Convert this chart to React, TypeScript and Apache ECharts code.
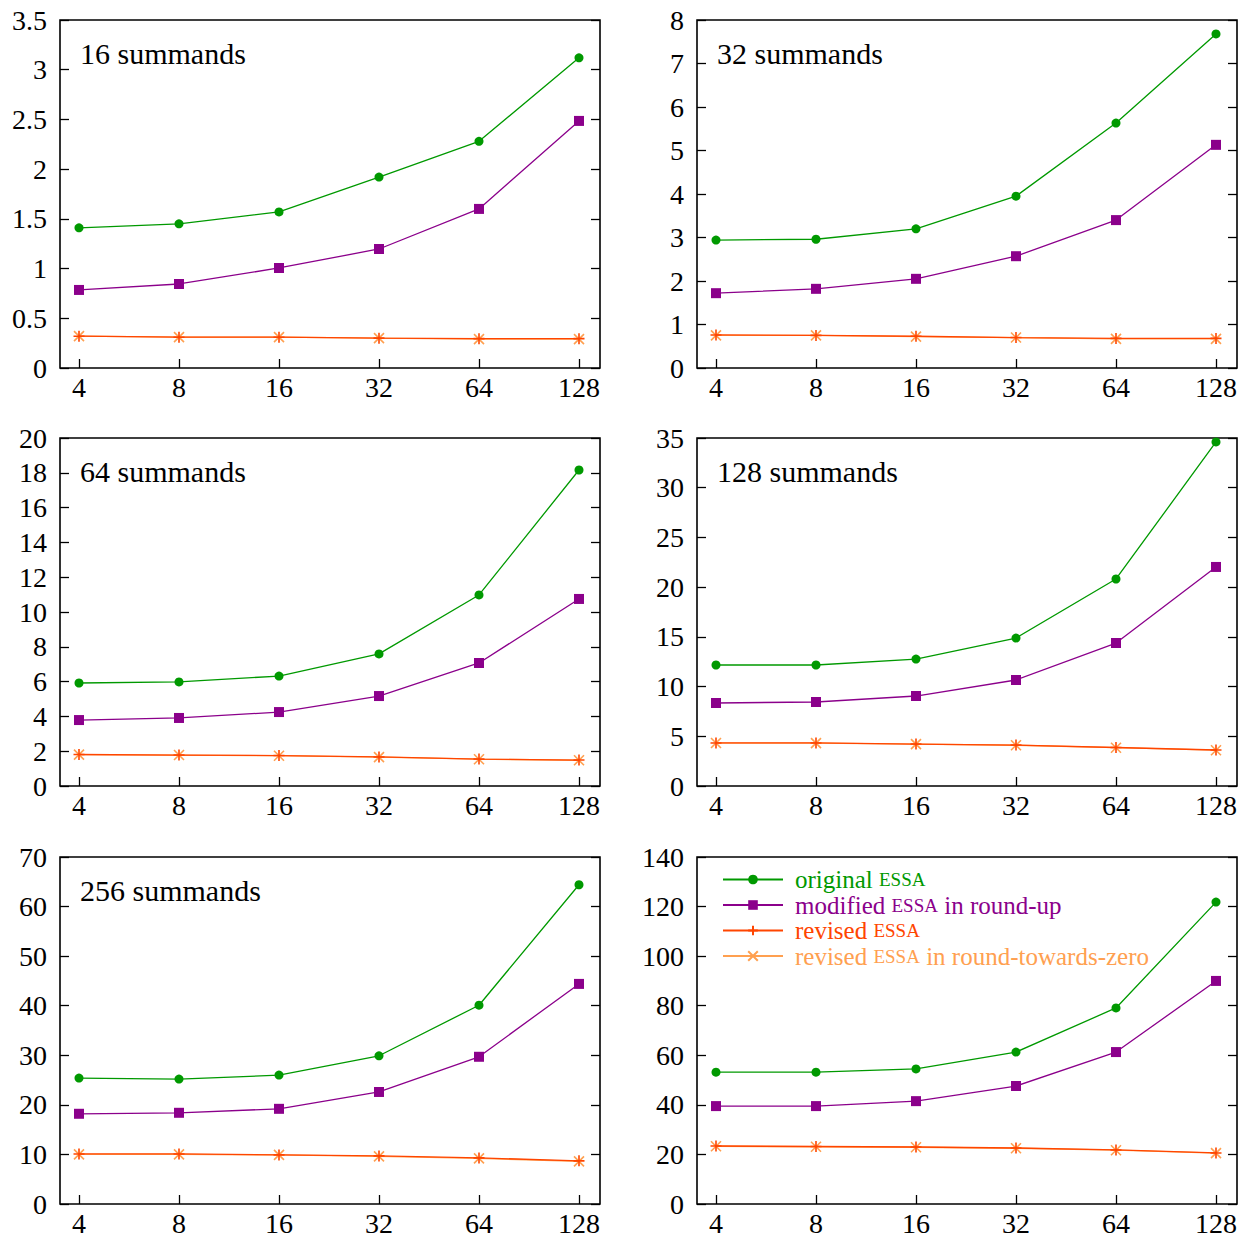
import React, { useEffect, useRef } from "react";
import * as echarts from "echarts";

const sizes = [4, 8, 16, 32, 64, 128];
const panelLabels = ["16 summands", "32 summands", "64 summands", "128 summands", "256 summands", ""];
const yMaxes = [3.5, 8, 20, 35, 70, 140];
const yIntervals = [0.5, 1, 2, 5, 10, 20];

const originalEssa = [
  [1.41, 1.45, 1.57, 1.92, 2.28, 3.12],
  [2.94, 2.96, 3.2, 3.95, 5.63, 7.68],
  [5.92, 5.98, 6.32, 7.59, 10.98, 18.16],
  [12.17, 12.17, 12.77, 14.88, 20.82, 34.6],
  [25.4, 25.2, 26.0, 29.9, 40.1, 64.4],
  [53.2, 53.2, 54.5, 61.3, 79.1, 121.8],
];
const modifiedEssa = [
  [0.785, 0.845, 1.006, 1.197, 1.6, 2.485],
  [1.72, 1.82, 2.05, 2.57, 3.4, 5.13],
  [3.79, 3.91, 4.25, 5.17, 7.07, 10.75],
  [8.35, 8.45, 9.05, 10.66, 14.38, 22.03],
  [18.2, 18.4, 19.2, 22.6, 29.7, 44.4],
  [39.5, 39.5, 41.5, 47.6, 61.3, 90.0],
];
const revisedEssa = [
  [0.32, 0.31, 0.31, 0.3, 0.295, 0.295],
  [0.76, 0.75, 0.73, 0.7, 0.68, 0.68],
  [1.81, 1.78, 1.75, 1.67, 1.55, 1.49],
  [4.33, 4.33, 4.22, 4.12, 3.87, 3.62],
  [10.1, 10.1, 9.9, 9.7, 9.3, 8.7],
  [23.4, 23.2, 23.0, 22.6, 21.8, 20.6],
];
const revisedEssaRtz = [
  [0.32, 0.31, 0.31, 0.3, 0.29, 0.29],
  [0.75, 0.75, 0.72, 0.7, 0.67, 0.67],
  [1.8, 1.78, 1.74, 1.66, 1.54, 1.48],
  [4.32, 4.31, 4.21, 4.1, 3.85, 3.6],
  [10.0, 10.0, 9.9, 9.6, 9.2, 8.6],
  [23.3, 23.1, 22.9, 22.5, 21.7, 20.5],
];

const seriesNames = [
  "original ESSA",
  "modified ESSA in round-up",
  "revised ESSA",
  "revised ESSA in round-towards-zero",
];
const seriesColors = ["#009900", "#8b008b", "#ff4500", "#ffa050"];

const FONT = "Liberation Serif";

const gridBoxes = [
  { left: 60, top: 20, width: 540, height: 348 },
  { left: 697, top: 20, width: 540, height: 348 },
  { left: 60, top: 438, width: 540, height: 348 },
  { left: 697, top: 438, width: 540, height: 348 },
  { left: 60, top: 857, width: 540, height: 347 },
  { left: 697, top: 857, width: 540, height: 347 },
];

export default function App() {
  const ref = useRef<HTMLDivElement>(null);
  useEffect(() => {
    if (!ref.current) return;
    const chart = echarts.init(ref.current, null, { renderer: "svg" });
    const xs = sizes.map((s) => Math.log2(s));
    const grids: any[] = [];
    const xAxes: any[] = [];
    const yAxes: any[] = [];
    const series: any[] = [];
    const graphics: any[] = [];
    gridBoxes.forEach((b, i) => {
      grids.push({ ...b, show: true, borderColor: "#000", borderWidth: 1.6, backgroundColor: "transparent" });
      xAxes.push({
        type: "value",
        gridIndex: i,
        min: 1.81,
        max: 7.21,
        axisLine: { show: false },
        splitLine: { show: false },
        axisTick: { show: true, inside: true, length: 9, customValues: xs, lineStyle: { color: "#000", width: 1.3 } },
        axisLabel: {
          customValues: xs,
          formatter: (v: number) => String(Math.round(Math.pow(2, v))),
          fontFamily: FONT,
          fontSize: 28,
          color: "#000",
          margin: 5,
        },
      });
      yAxes.push({
        type: "value",
        gridIndex: i,
        min: 0,
        max: yMaxes[i],
        interval: yIntervals[i],
        axisLine: { show: false },
        splitLine: { show: false },
        axisTick: { show: true, inside: true, length: 9, lineStyle: { color: "#000", width: 1.3 } },
        axisLabel: { fontFamily: FONT, fontSize: 28, color: "#000", margin: 13 },
      });
      yAxes.push({
        type: "value",
        gridIndex: i,
        position: "right",
        min: 0,
        max: yMaxes[i],
        interval: yIntervals[i],
        axisLine: { show: false },
        splitLine: { show: false },
        axisTick: { show: true, inside: true, length: 9, lineStyle: { color: "#000", width: 1.3 } },
        axisLabel: { show: false },
      });
      const datasets = [originalEssa[i], modifiedEssa[i], revisedEssaRtz[i], revisedEssa[i]];
      const nameIdx = [0, 1, 3, 2];
      const symbols = [
        "circle",
        "rect",
        "path://M0,0L10,10M0,10L10,0",
        "path://M5,0L5,10M0,5L10,5",
      ];
      const symbolSizes = [9, 10, 10, 11];
      datasets.forEach((d, k) => {
        const ni = nameIdx[k];
        const c = seriesColors[ni];
        series.push({
          type: "line",
          name: seriesNames[ni],
          xAxisIndex: i,
          yAxisIndex: i * 2,
          data: d.map((v, j) => [xs[j], v]),
          symbol: symbols[k],
          symbolSize: symbolSizes[k],
          showSymbol: true,
          color: c,
          lineStyle: { color: c, width: 1.3 },
          itemStyle: { color: c, borderColor: c, borderWidth: k >= 2 ? 1.6 : 0 },
          emphasis: { disabled: true },
          z: 2 + k,
        });
      });
      if (panelLabels[i]) {
        graphics.push({
          type: "text",
          left: b.left + 20,
          top: b.top + 18,
          style: { text: panelLabels[i], font: `30px "${FONT}"`, fill: "#000" },
        });
      }
    });
    const legendData = [0, 1, 2, 3].map((k) => ({
      name: seriesNames[k],
      textStyle: {
        color: seriesColors[k],
        rich: { sc: { fontSize: 19, color: seriesColors[k], fontFamily: FONT } },
      },
    }));
    chart.setOption({
      animation: false,
      textStyle: { fontFamily: FONT },
      grid: grids,
      xAxis: xAxes,
      yAxis: yAxes,
      series,
      graphic: graphics,
      legend: {
        data: legendData,
        orient: "vertical",
        left: 722,
        top: 867,
        padding: 0,
        itemWidth: 60,
        itemHeight: 12,
        itemGap: 0.5,
        selectedMode: false,
        formatter: (name: string) => name.replace("ESSA", "{sc|ESSA}"),
        textStyle: { fontFamily: FONT, fontSize: 25, lineHeight: 20, padding: [0, 0, 0, 7] },
      },
    });
    return () => chart.dispose();
  }, []);
  return (
    <div
      ref={ref}
      style={{ position: "absolute", left: 0, top: 0, width: 1248, height: 1239, background: "#fff" }}
    />
  );
}
